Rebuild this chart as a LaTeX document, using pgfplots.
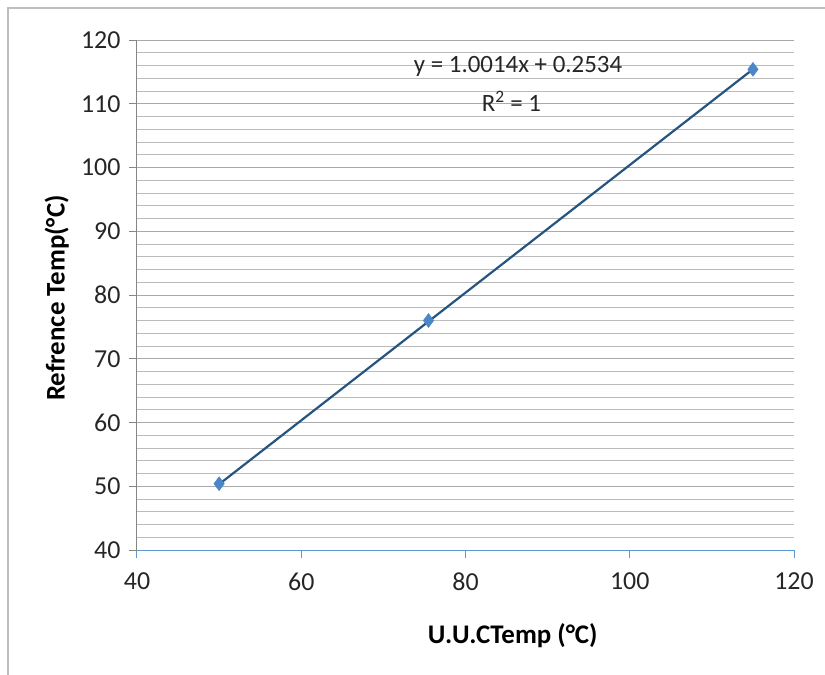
\documentclass[border=0pt]{standalone}
\usepackage{fontspec}
\setmainfont{Carlito}
\usepackage{pgfplots}
\pgfplotsset{compat=1.18}
\definecolor{gridc}{RGB}{170,170,170}
\definecolor{axc}{RGB}{134,134,134}
\definecolor{xaxc}{RGB}{91,155,213}
\definecolor{markc}{RGB}{74,134,200}
\definecolor{linec}{RGB}{38,84,128}
\begin{document}
\begin{tikzpicture}
\path[use as bounding box] (-137bp,-125bp) rectangle (688bp,550bp);
\draw[color={rgb,255:red,190;green,190;blue,190}, line width=1.5bp] (-129bp,-125bp) -- (-129bp,542bp) -- (688bp,542bp);
\begin{axis}[
  at={(0,0)}, anchor=south west,
  scale only axis, width=657bp, height=510bp,
  xmin=40, xmax=120, ymin=40, ymax=120,
  xtick={40,60,...,120}, ytick={40,50,...,120},
  minor y tick num=4,
  ymajorgrids, yminorgrids,
  major grid style={draw=gridc, line width=0.9bp},
  minor grid style={draw=gridc!80, line width=0.8bp},
  axis x line*=bottom, axis y line*=left,
  x axis line style={draw=xaxc, line width=1bp, -},
  y axis line style={draw=axc, line width=1bp, -},
  tick align=outside,
  major tick length=8bp, minor tick length=0pt,
  x tick style={draw=xaxc, line width=1bp},
  y tick style={draw=axc, line width=1bp},
  /pgf/number format/assume math mode=true,
  tick label style={font=\fontsize{26}{29}\selectfont, text=black!85},
  xticklabel style={yshift=-11bp},
  yticklabel style={xshift=-5bp},
  label style={font=\bfseries\fontsize{27}{30}\selectfont},
  xlabel={U.U.CTemp (°C)},
  ylabel={Refrence Temp(°C)},
  xlabel style={at={(axis description cs:0.572,-0.167)}, anchor=center},
  ylabel style={at={(axis description cs:-0.122,0.494)}, anchor=center, rotate=0},
  clip=false,
]
\addplot[linec, line width=2.2bp, no markers] coordinates {(50,50.32) (115,115.41)};
\addplot[only marks, mark=diamond*, mark size=7bp, color=markc, mark options={fill=markc, draw=markc}]
  coordinates {(50,50.4) (75.5,76) (115,115.4)};
\node[font=\fontsize{25}{28}\selectfont, text=black!85] at (axis cs:86.4,115.8) {y = 1.0014x + 0.2534};
\node[font=\fontsize{25}{28}\selectfont, text=black!85] at (axis cs:85.6,110.4) {R\textsuperscript{2} = 1};
\end{axis}
\end{tikzpicture}
\end{document}
